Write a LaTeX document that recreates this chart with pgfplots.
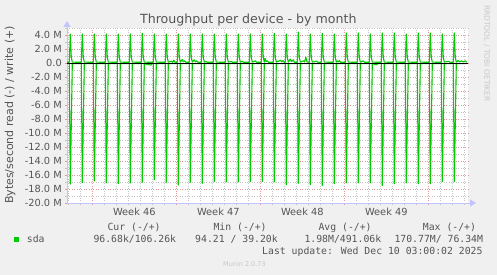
\documentclass[border=0pt]{standalone}
\usepackage{fontspec}
\setmainfont{DejaVu Sans}
\newfontfamily\monofont{DejaVu Sans Mono}
\usepackage{pgfplots}
\pgfplotsset{compat=1.18}
\usetikzlibrary{arrows.meta}
\definecolor{bg}{RGB}{240,240,240}
\definecolor{txt}{RGB}{85,85,85}
\definecolor{munigreen}{RGB}{0,204,0}
\definecolor{majg}{RGB}{230,150,150}
\definecolor{ming}{RGB}{195,195,195}
\definecolor{axc}{RGB}{195,195,255}
\definecolor{faint}{RGB}{200,200,200}
\begin{document}
\begin{tikzpicture}[x=1pt,y=1pt]
\path[use as bounding box, fill=bg] (0,0) rectangle (497,275);
\begin{axis}[
 at={(67pt,212pt)}, anchor=origin,
 scale only axis, width=401pt, height=175pt,
 xmin=0, xmax=33.417, ymin=-20, ymax=5,
 axis background/.style={fill=white},
 axis x line=bottom, axis y line=left,
 axis line style={draw=axc, line width=0.8pt},
 x axis line style={-{Triangle[width=7pt,length=6pt]}, shorten >=-8pt},
 y axis line style={-{Triangle[width=7pt,length=6pt]}, shorten >=-7pt},
 xtick={2.108,9.108,16.108,23.108,30.108}, xticklabels={},
 minor xtick={0.108,1.108,3.108,4.108,5.108,6.108,7.108,8.108,10.108,11.108,12.108,13.108,14.108,15.108,17.108,18.108,19.108,20.108,21.108,22.108,24.108,25.108,26.108,27.108,28.108,29.108,31.108,32.108,33.108},
 extra x ticks={5.608,12.608,19.608,26.608},
 extra x tick labels={Week 46,Week 47,Week 48,Week 49},
 extra x tick style={grid=none, major tick length=0pt},
 ytick={-20,-18,-16,-14,-12,-10,-8,-6,-4,-2,0,2,4},
 yticklabels={-20.0 M,-18.0 M,-16.0 M,-14.0 M,-12.0 M,-10.0 M,-8.0 M,-6.0 M,-4.0 M,-2.0 M,0.0,2.0 M,4.0 M},
 minor ytick={-19,-17,-15,-13,-11,-9,-7,-5,-3,-1,1,3,5},
 grid=both,
 major grid style={draw=majg, dotted, line width=0.6pt},
 minor grid style={draw=ming, dotted, line width=0.6pt},
 tick align=outside, major tick length=2pt, minor tick length=2pt,
 major tick style={draw=majg}, minor tick style={draw=ming},
 ticklabel style={font=\fontsize{9.8}{11}\selectfont, text=txt},
 yticklabel style={anchor=east, inner sep=0pt, xshift=-3pt},
 xticklabel style={anchor=base, inner sep=0pt, yshift=-12.7pt},
 /pgf/number format/assume math mode=true,
 clip=false,
]
\addplot[munigreen, line width=1.1pt, line join=round] coordinates {
(0,0.1)
(0.192,0.1) (0.275,4.14) (0.358,0.8) (0.442,0.12)
(1.192,0.1) (1.275,4.14) (1.358,0.8) (1.442,0.12)
(2.192,0.1) (2.275,4.14) (2.358,0.8) (2.442,0.12)
(3.192,0.1) (3.275,4.14) (3.358,0.8) (3.442,0.12)
(4.192,0.1) (4.275,4.14) (4.358,0.8) (4.442,0.12)
(5.192,0.1) (5.275,4.14) (5.358,0.8) (5.442,0.12)
(6.192,0.1) (6.275,4.26) (6.358,0.8) (6.442,0.12)
(7.192,0.1) (7.275,4.14) (7.358,0.8) (7.442,0.12)
(8.192,0.1) (8.275,4.14) (8.358,0.8) (8.442,0.12) (8.7,0.25) (8.8,0.1) (8.9,0.4) (9.0,0.1)
(9.192,0.1) (9.275,4.14) (9.358,0.8) (9.442,0.12) (9.6,0.5) (9.7,0.15) (9.8,0.3) (9.9,0.1)
(10.192,0.1) (10.275,4.14) (10.358,0.8) (10.442,0.12) (10.6,0.45) (10.7,0.15) (10.8,0.3) (10.9,0.1)
(11.192,0.1) (11.275,4.14) (11.358,0.8) (11.442,0.12) (11.6,0.2) (11.7,0.1)
(12.192,0.1) (12.275,4.14) (12.358,0.8) (12.442,0.12)
(13.192,0.1) (13.275,4.14) (13.358,0.8) (13.442,0.12) (13.7,0.22) (13.8,0.1)
(14.192,0.1) (14.275,4.14) (14.358,0.8) (14.442,0.12) (14.6,0.25) (14.7,0.1)
(15.192,0.1) (15.275,4.14) (15.358,0.8) (15.442,0.12) (15.7,0.3) (15.8,0.1)
(16.192,0.1) (16.275,4.14) (16.358,0.8) (16.442,0.12) (16.5,0.65) (16.6,0.2) (16.7,0.3) (16.8,0.1)
(17.192,0.1) (17.275,4.24) (17.358,0.8) (17.442,0.12) (17.8,0.4) (17.9,0.15) (18.0,0.35) (18.1,0.1)
(18.192,0.1) (18.275,4.14) (18.358,0.8) (18.442,0.12) (18.6,0.55) (18.7,0.2) (18.85,0.45) (18.95,0.1)
(19.192,0.1) (19.275,4.43) (19.358,0.8) (19.442,0.12) (19.7,0.3) (19.8,0.15) (19.9,0.85) (20.0,0.15)
(20.192,0.1) (20.275,4.14) (20.358,0.8) (20.442,0.12) (20.8,0.25) (20.9,0.1)
(21.192,0.1) (21.275,4.24) (21.358,0.8) (21.442,0.12)
(22.192,0.1) (22.275,4.14) (22.358,0.8) (22.442,0.12) (22.5,0.3) (22.6,0.15) (22.7,0.35) (22.8,0.1)
(23.192,0.1) (23.275,4.29) (23.358,0.8) (23.442,0.12)
(24.192,0.1) (24.275,4.29) (24.358,0.8) (24.442,0.12) (24.7,0.3) (24.8,0.1)
(25.192,0.1) (25.275,4.14) (25.358,0.8) (25.442,0.12)
(26.192,0.1) (26.275,4.29) (26.358,0.8) (26.442,0.12)
(27.192,0.1) (27.275,4.29) (27.358,0.8) (27.442,0.12)
(28.192,0.1) (28.275,4.14) (28.358,0.8) (28.442,0.12)
(29.192,0.1) (29.275,4.29) (29.358,0.8) (29.442,0.12)
(30.192,0.1) (30.275,4.29) (30.358,0.8) (30.442,0.12)
(31.192,0.1) (31.275,4.14) (31.358,0.8) (31.442,0.12) (31.8,0.25) (31.9,0.1)
(32.192,0.1) (32.275,4.29) (32.358,0.8) (32.442,0.12) (32.6,0.35) (32.7,0.15) (32.9,0.3) (33.0,0.15) (33.2,0.3) (33.3,0.1)
};
\addplot[munigreen, line width=1.1pt, line join=round] coordinates {
(0,-0.1)
(0.192,-0.1) (0.275,-17.29) (0.442,-0.1)
(1.192,-0.1) (1.275,-17.10) (1.442,-0.1)
(2.192,-0.1) (2.275,-16.86) (2.442,-0.1)
(3.192,-0.1) (3.275,-17.10) (3.442,-0.1)
(4.192,-0.1) (4.275,-17.24) (4.442,-0.1)
(5.192,-0.1) (5.275,-17.14) (5.442,-0.1)
(6.192,-0.1) (6.275,-17.05) (6.442,-0.1) (7.0,-0.3) (7.1,-0.1)
(7.192,-0.1) (7.275,-16.67) (7.442,-0.1)
(8.192,-0.1) (8.275,-17.05) (8.442,-0.1)
(9.192,-0.1) (9.275,-17.43) (9.442,-0.1)
(10.192,-0.1) (10.275,-17.05) (10.442,-0.1)
(11.192,-0.1) (11.275,-17.19) (11.442,-0.1)
(12.192,-0.1) (12.275,-16.95) (12.442,-0.1)
(13.192,-0.1) (13.275,-17.00) (13.442,-0.1)
(14.192,-0.1) (14.275,-17.00) (14.442,-0.1)
(15.192,-0.1) (15.275,-16.95) (15.442,-0.1)
(16.192,-0.1) (16.275,-16.95) (16.442,-0.1)
(17.192,-0.1) (17.275,-17.00) (17.442,-0.1)
(18.192,-0.1) (18.275,-17.38) (18.442,-0.1)
(19.192,-0.1) (19.275,-17.19) (19.442,-0.1)
(20.192,-0.1) (20.275,-17.38) (20.442,-0.1)
(21.192,-0.1) (21.275,-17.52) (21.442,-0.1)
(22.192,-0.1) (22.275,-17.25) (22.442,-0.1)
(23.192,-0.1) (23.275,-17.10) (23.442,-0.1)
(24.192,-0.1) (24.275,-17.10) (24.442,-0.1)
(25.192,-0.1) (25.275,-17.10) (25.442,-0.1) (25.8,-0.25) (25.9,-0.1)
(26.192,-0.1) (26.275,-17.52) (26.442,-0.1)
(27.192,-0.1) (27.275,-17.25) (27.442,-0.1)
(28.192,-0.1) (28.275,-17.10) (28.442,-0.1)
(29.192,-0.1) (29.275,-17.25) (29.442,-0.1)
(30.192,-0.1) (30.275,-17.25) (30.442,-0.1)
(31.192,-0.1) (31.275,-16.95) (31.442,-0.1)
(32.192,-0.1) (32.275,-16.95) (32.442,-0.1)
(33.3,-0.1)
};
\addplot[black, line width=0.8pt] coordinates {(0,0) (33.417,0)};
\end{axis}
\node[anchor=base, inner sep=0pt, text=txt, font=\fontsize{12.6}{14}\selectfont] at (248.3,251) {Throughput per device - by month};
\node[rotate=90, inner sep=0pt, text=txt, font=\fontsize{11}{13}\selectfont] at (10,160) {Bytes/second read (-) / write (+)};
\node[rotate=-90, inner sep=0pt, text=faint, font=\fontsize{7.5}{9}\selectfont] at (486.7,221.5) {RRDTOOL / TOBI OETIKER};
\fill[munigreen] (14,32.7) rectangle (19.3,37.7);
\begin{scope}[every node/.style={inner sep=0pt, text=txt, font=\monofont\fontsize{9.8}{11}\selectfont}]
\node[anchor=base west] at (107.3,44) {Cur (-/+)};
\node[anchor=base west] at (213.3,44) {Min (-/+)};
\node[anchor=base west] at (318.3,44) {Avg (-/+)};
\node[anchor=base west] at (422.7,44) {Max (-/+)};
\node[anchor=base west] at (26.7,32.3) {sda};
\node[anchor=base west] at (93.3,32.3) {96.68k/106.26k};
\node[anchor=base west] at (195,32.3) {94.21 / 39.20k};
\node[anchor=base west] at (304.3,32.3) {1.98M/491.06k};
\node[anchor=base west] at (394.3,32.3) {170.77M/ 76.34M};
\node[anchor=base east] at (482.7,20.7) {Last update: Wed Dec 10 03:00:02 2025};
\end{scope}
\node[anchor=base west, inner sep=0pt, text=faint, font=\fontsize{6.5}{8}\selectfont] at (223,8.3) {Munin 2.0.73};
\end{tikzpicture}
\end{document}
